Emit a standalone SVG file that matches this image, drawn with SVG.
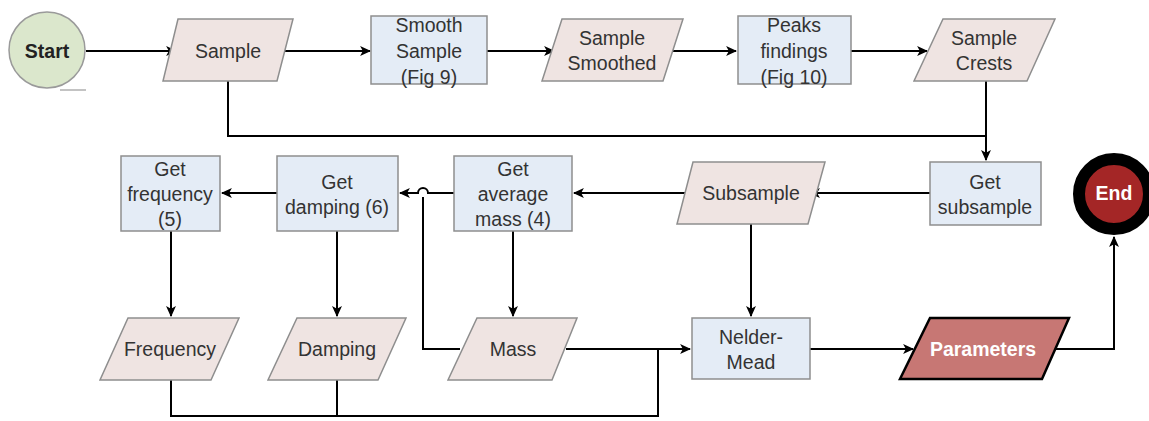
<svg xmlns="http://www.w3.org/2000/svg" width="1149" height="421" viewBox="0 0 1149 421">
<style>
.proc{fill:#e4ecf6;stroke:#8e8e8e;stroke-width:1.5}
.data{fill:#efe4e2;stroke:#8e8e8e;stroke-width:1.5}
.t{font-family:"Liberation Sans",Arial,sans-serif;font-size:19.5px;fill:#333;text-anchor:middle;dominant-baseline:central}
.b{font-weight:bold}
.w{fill:#fff}
.c{fill:none;stroke:#000;stroke-width:2}
</style>
<defs>
<marker id="ah" viewBox="0 0 10 10" refX="9" refY="5" markerWidth="11" markerHeight="11" markerUnits="userSpaceOnUse" orient="auto">
<path d="M0,0.5 L10,5 L0,9.5 L2.5,5 z" fill="#000"/>
</marker>
</defs>
<rect width="1149" height="421" fill="#fff"/>
<g id="connectors">
<path class="c" d="M86,51 H176" marker-end="url(#ah)"/>
<path class="c" d="M285,51 H370" marker-end="url(#ah)"/>
<path class="c" d="M487,51 H554" marker-end="url(#ah)"/>
<path class="c" d="M673,51 H736" marker-end="url(#ah)"/>
<path class="c" d="M851,51 H927" marker-end="url(#ah)"/>
<path class="c" d="M228,81 V136 H986"/>
<path class="c" d="M986,81 V160" marker-end="url(#ah)"/>
<path class="c" d="M930,193 H810" marker-end="url(#ah)"/>
<path class="c" d="M685,193 H574" marker-end="url(#ah)"/>
<path class="c" d="M454,193 H428 A5,5 0 0 0 418,193 H400" marker-end="url(#ah)"/>
<path class="c" d="M423,197 V349 H460"/>
<path class="c" d="M277,193 H222" marker-end="url(#ah)"/>
<path class="c" d="M171,231 V316" marker-end="url(#ah)"/>
<path class="c" d="M337,231 V316" marker-end="url(#ah)"/>
<path class="c" d="M513,231 V316" marker-end="url(#ah)"/>
<path class="c" d="M751,224 V316" marker-end="url(#ah)"/>
<path class="c" d="M566,349 H690" marker-end="url(#ah)"/>
<path class="c" d="M171,380 V416 H658 V349"/>
<path class="c" d="M337,380 V416"/>
<path class="c" d="M810,349 H913" marker-end="url(#ah)"/>
<path class="c" d="M1056,349 H1114 V237" marker-end="url(#ah)"/>
</g>
<g id="start">
<circle cx="47" cy="50" r="38" fill="#dbe7cc" stroke="#9a9a9a" stroke-width="1.5"/>
<line x1="60" y1="90" x2="86" y2="90" stroke="#9a9a9a" stroke-width="1.2"/>
<text class="t b" x="47" y="51" style="fill:#222">Start</text>
</g>
<g id="sample">
<polygon class="data" points="178,19 293,19 277,81 163,81"/>
<text class="t" x="228" y="51">Sample</text>
</g>
<g id="smooth-sample">
<rect class="proc" x="371" y="16" width="116" height="68"/>
<text class="t" x="429" y="25">Smooth</text>
<text class="t" x="429" y="51">Sample</text>
<text class="t" x="429" y="77">(Fig 9)</text>
</g>
<g id="sample-smoothed">
<polygon class="data" points="562,19 683,19 663,81 542,81"/>
<text class="t" x="612" y="38">Sample</text>
<text class="t" x="612" y="63">Smoothed</text>
</g>
<g id="peaks">
<rect class="proc" x="738" y="16" width="113" height="68"/>
<text class="t" x="794" y="25">Peaks</text>
<text class="t" x="794" y="51">findings</text>
<text class="t" x="794" y="77">(Fig 10)</text>
</g>
<g id="sample-crests">
<polygon class="data" points="943,19 1055,19 1027,81 914,81"/>
<text class="t" x="984" y="38">Sample</text>
<text class="t" x="984" y="63">Crests</text>
</g>
<g id="get-subsample">
<rect class="proc" x="930" y="162" width="111" height="63"/>
<text class="t" x="985" y="182">Get</text>
<text class="t" x="985" y="207">subsample</text>
</g>
<g id="end">
<circle cx="1114" cy="194" r="35" fill="#a42626" stroke="#000" stroke-width="12"/>
<text class="t b w" x="1114" y="193">End</text>
</g>
<g id="subsample">
<polygon class="data" points="693,162 825,162 808,224 677,224"/>
<text class="t" x="751" y="193">Subsample</text>
</g>
<g id="get-average-mass">
<rect class="proc" x="454" y="156" width="118" height="75"/>
<text class="t" x="513" y="169">Get</text>
<text class="t" x="513" y="194">average</text>
<text class="t" x="513" y="219">mass (4)</text>
</g>
<g id="get-damping">
<rect class="proc" x="277" y="156" width="121" height="75"/>
<text class="t" x="337" y="182">Get</text>
<text class="t" x="337" y="207">damping (6)</text>
</g>
<g id="get-frequency">
<rect class="proc" x="121" y="156" width="99" height="75"/>
<text class="t" x="170" y="169">Get</text>
<text class="t" x="170" y="194">frequency</text>
<text class="t" x="170" y="219">(5)</text>
</g>
<g id="frequency">
<polygon class="data" points="128,318 239,318 211,380 100,380"/>
<text class="t" x="170" y="349">Frequency</text>
</g>
<g id="damping">
<polygon class="data" points="297,318 406,318 378,380 268,380"/>
<text class="t" x="337" y="349">Damping</text>
</g>
<g id="mass">
<polygon class="data" points="477,318 577,318 552,380 448,380"/>
<text class="t" x="513" y="349">Mass</text>
</g>
<g id="nelder-mead">
<rect class="proc" x="692" y="318" width="118" height="61"/>
<text class="t" x="751" y="337">Nelder-</text>
<text class="t" x="751" y="362">Mead</text>
</g>
<g id="parameters">
<polygon points="930,318 1069,318 1042,379 900,379" fill="#c77774" stroke="#000" stroke-width="2.5"/>
<text class="t b w" x="983" y="349">Parameters</text>
</g>
</svg>
